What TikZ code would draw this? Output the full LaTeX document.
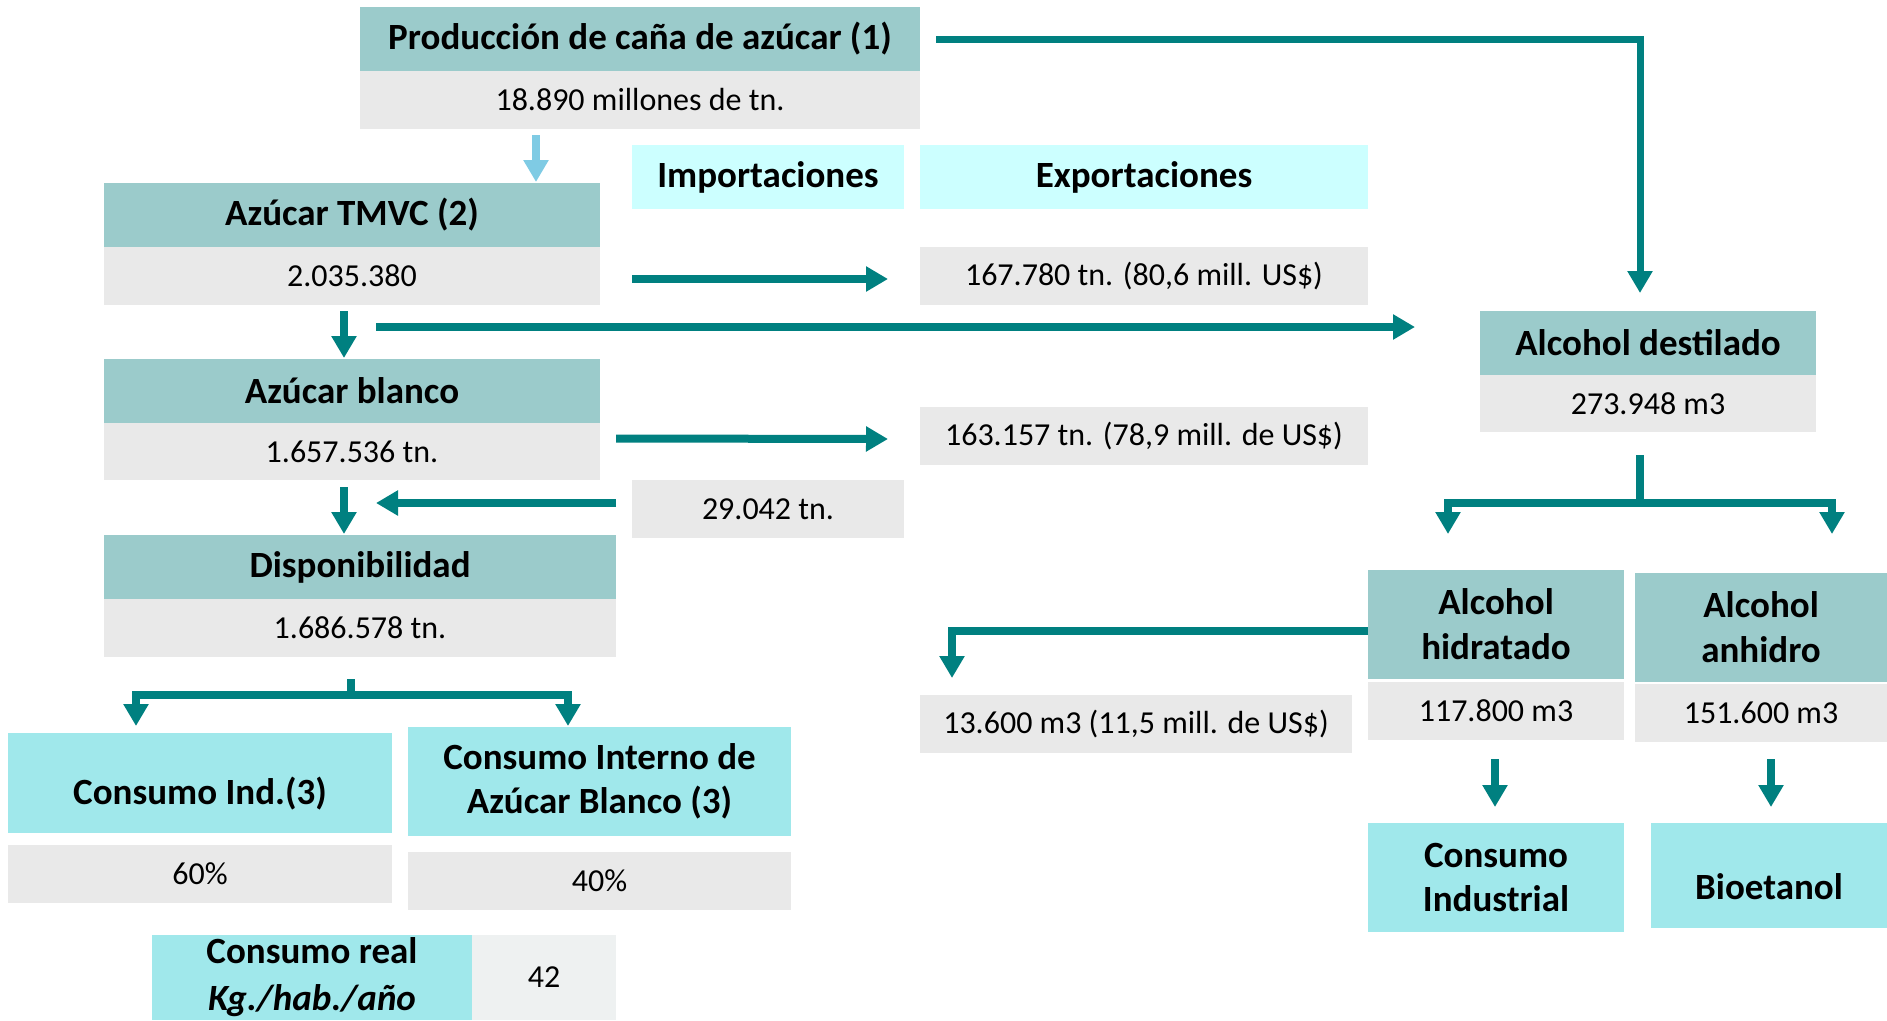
\documentclass[tikz,border=0pt]{standalone}
\usepackage{fontspec}
\setmainfont{Carlito}
\usetikzlibrary{arrows.meta,calc}

\definecolor{headteal}{HTML}{9BCBCB}
\definecolor{valgray}{HTML}{E9E9E9}
\definecolor{tradecyan}{HTML}{CCFFFF}
\definecolor{conscyan}{HTML}{A0E8EB}
\definecolor{softgray}{HTML}{EEF1F1}
\definecolor{flowteal}{HTML}{008080}
\definecolor{skyblue}{HTML}{7FCBE4}

\newcommand{\lowtext}[1]{\raisebox{-11pt}[\height][\depth]{#1}}

\tikzset{
	box/.style={inner sep=0pt, outer sep=0pt, anchor=north west, align=center},
	wh/.style 2 args={minimum width=#1pt, minimum height=#2pt},
	head/.style={box, fill=headteal, font=\fontsize{37}{45}\selectfont\bfseries},
	val/.style={box, fill=valgray, font=\fontsize{32}{40}\selectfont},
	trade/.style={box, fill=tradecyan, font=\fontsize{37}{45}\selectfont\bfseries},
	cons/.style={box, fill=conscyan, font=\fontsize{37}{44}\selectfont\bfseries},
	flow/.style={draw=flowteal, line width=8pt, -{Triangle[length=22pt,width=24pt]}},
	flowline/.style={draw=flowteal, line width=8pt},
}

\begin{document}
\begin{tikzpicture}[x=1pt, y=-1pt]

	\useasboundingbox (0,0) rectangle (1887,1020);

	% cane production
	\node[head, wh={560}{64}] (prodh) at (360,7) {Producción de caña de azúcar (1)};
	\node[val, wh={560}{58}] (prodv) at (360,71) {18.890 millones de tn.};

	% trade headers
	\node[trade, wh={272}{64}] (imph) at (632,145) {Importaciones};
	\node[trade, wh={448}{64}] (exph) at (920,145) {Exportaciones};

	% sugar chain
	\node[head, wh={496}{64}] (tmvch) at (104,183) {Azúcar TMVC (2)};
	\node[val, wh={496}{58}] (tmvcv) at (104,247) {2.035.380};
	\node[val, wh={448}{58}] (expa) at (920,247) {167.780 tn. (80,6 mill. US\$)};

	\node[head, wh={496}{64}] (blah) at (104,359) {Azúcar blanco};
	\node[val, wh={496}{57}] (blav) at (104,423) {1.657.536 tn.};
	\node[val, wh={448}{58}] (expb) at (920,407) {163.157 tn. (78,9 mill. de US\$)};
	\node[val, wh={272}{58}] (impa) at (632,480) {29.042 tn.};

	\node[head, wh={512}{64}] (disph) at (104,535) {Disponibilidad};
	\node[val, wh={512}{58}] (dispv) at (104,599) {1.686.578 tn.};

	% consumption
	\node[cons, wh={384}{100}] (cind) at (8,733) {\lowtext{Consumo Ind.(3)}};
	\node[cons, wh={383}{109}] (cint) at (408,727) {Consumo Interno de\\Azúcar Blanco (3)};
	\node[val, wh={384}{58}] (pind) at (8,845) {60\%};
	\node[val, wh={383}{58}] (pint) at (408,852) {40\%};
	\node[cons, wh={320}{85}, font=\fontsize{37}{47}\selectfont\bfseries] (creal) at (152,935) {Consumo real\\\textit{Kg./hab./año}};
	\node[val, fill=softgray, wh={144}{85}] (kg) at (472,935) {42};

	% alcohol chain
	\node[head, wh={336}{64}] (aldh) at (1480,311) {Alcohol destilado};
	\node[val, wh={336}{57}] (aldv) at (1480,375) {273.948 m3};

	\node[head, wh={256}{109}] (hidh) at (1368,570) {Alcohol\\hidratado};
	\node[val, wh={256}{58}] (hidv) at (1368,682) {117.800 m3};
	\node[head, wh={252}{109}] (anhh) at (1635,573) {Alcohol\\anhidro};
	\node[val, wh={252}{58}] (anhv) at (1635,684) {151.600 m3};
	\node[val, wh={432}{58}] (expc) at (920,695) {13.600 m3 (11,5 mill. de US\$)};

	\node[cons, wh={256}{109}] (indu) at (1368,823) {Consumo\\Industrial};
	\node[cons, wh={236}{105}] (bio) at (1651,823) {\lowtext{Bioetanol}};

	% free ends of the connectors
	\coordinate (prodout) at ($(prodh.east)+(16,0)$);
	\coordinate (aldin) at (1640,293);
	\coordinate (cutin) at (536,135);
	\coordinate (cutout) at (536,182);
	\coordinate (tmvcout) at (344,311);
	\coordinate (blain) at (344,358);
	\coordinate (alcin) at (1415,327);
	\coordinate (blaout) at (344,487);
	\coordinate (dispin) at (344,534);
	\coordinate (impin) at (376,503);
	\coordinate (dispfork) at (351,695);
	\coordinate (aldfork) at (1640,503);
	\coordinate (hidout) at (952,678);

	% cane to sugar
	\draw[draw=skyblue, line width=8pt, -{Triangle[length=22pt,width=24pt]}] (cutin) -- (cutout);

	% cane to alcohol
	\draw[flow, line width=7pt] (prodout) -| (aldin);

	% sugar flows
	\draw[flow] ($(tmvcv.east)+(32,3)$) -- ($(expa.west)+(-32,3)$);
	\draw[flow] (tmvcout) -- (blain);
	\draw[flow] (376,327) -- (alcin);
	\draw[flow] ($(blav.east)+(16,-13)$) -- ($(expb.west)+(-32,3)$);
	\draw[flow] (blaout) -- (dispin);
	\draw[flow] ($(impa.west)+(-16,-6)$) -- (impin);

	% split of availability
	\draw[flowline] ($(dispv.south)+(-9,22)$) -- (dispfork);
	\draw[flowline] (136,695) -- (568,695);
	\draw[flow] (136,691) -- (136,726);
	\draw[flow] (568,691) -- (568,726);

	% split of distilled alcohol
	\draw[flowline] ($(aldv.south)+(-8,23)$) -- (aldfork);
	\draw[flowline] (1448,503) -- (1832,503);
	\draw[flow] (1448,499) -- (1448,534);
	\draw[flow] (1832,499) -- (1832,534);

	% hydrated alcohol exports
	\draw[flow] (hidh.west |- 0,631) -| (hidout);

	% alcohol uses
	\draw[flow] ($(hidv.south)+(-1,19)$) -- ($(indu.north)+(-1,-16)$);
	\draw[flow] ($(anhv.south)+(10,17)$) -- ($(bio.north)+(2,-16)$);

\end{tikzpicture}
\end{document}
